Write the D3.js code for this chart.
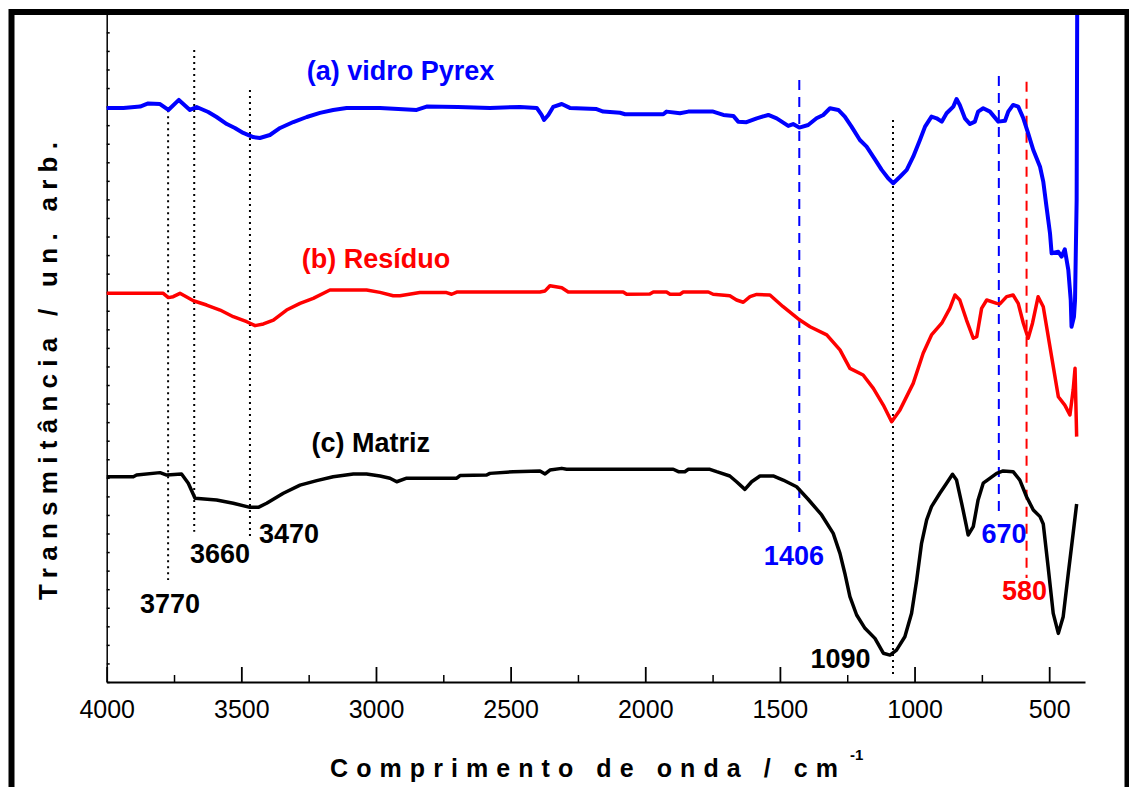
<!DOCTYPE html>
<html>
<head>
<meta charset="utf-8">
<script src="https://cdn.jsdelivr.net/npm/d3@7"></script>
<style>
  html, body { margin: 0; padding: 0; background: #fff; }
  svg { display: block; font-family: "Liberation Sans", Arial, sans-serif; }
</style>
</head>
<body>
<svg id="chart" width="1129" height="787"></svg>
<script>
// ---------- data (wavenumber cm^-1, transmittance arb. units) ----------
const pyrex = [
  [4000,30.93],[3938,30.93],[3876,31.00],[3846,31.17],[3802,31.14],[3771,30.82],[3732,31.36],[3691,30.82],
  [3666,30.98],[3623,30.71],[3592,30.44],[3554,30.06],[3524,29.85],[3493,29.58],[3456,29.36],[3431,29.31],
  [3394,29.47],[3356,29.85],[3307,30.17],[3257,30.44],[3208,30.66],[3159,30.82],[3109,30.93],[2985,30.93],
  [2849,30.82],[2812,31.00],[2696,30.98],[2577,30.93],[2465,30.98],[2403,30.93],[2385,30.55],[2376,30.28],
  [2360,30.55],[2342,30.98],[2310,31.14],[2280,30.93],[2181,30.87],[2156,30.73],[2094,30.67],[2075,30.59],
  [1933,30.59],[1921,30.73],[1871,30.64],[1840,30.73],[1748,30.73],[1710,30.55],[1673,30.50],[1655,30.19],
  [1624,30.16],[1586,30.37],[1543,30.55],[1512,30.37],[1469,29.96],[1451,30.06],[1428,29.87],[1395,30.01],
  [1364,30.37],[1339,30.55],[1314,30.91],[1283,30.82],[1259,30.46],[1234,29.92],[1203,29.20],[1178,28.84],
  [1147,28.16],[1122,27.59],[1098,27.14],[1079,26.87],[1054,27.22],[1029,27.59],[1005,28.30],[980,29.20],
  [961,29.92],[937,30.46],[918,30.37],[899,30.19],[881,30.64],[856,31.00],[844,31.41],[832,31.09],
  [813,30.37],[794,30.06],[776,30.19],[764,30.73],[745,30.91],[720,30.73],[689,30.19],[664,30.24],
  [652,30.73],[634,31.09],[615,31.00],[596,30.37],[578,29.56],[559,28.66],[534,27.76],[522,26.96],
  [510,25.61],[497,24.18],[491,23.10],[466,23.18],[454,22.92],[442,23.31],[429,22.20],[420,20.58],
  [417,19.14],[408,19.68],[404,20.58],[401,23.28],[398,25.97],[396,36.00]
];
const residuo = [
  [4000,20.94],[3913,20.94],[3790,20.94],[3771,20.71],[3753,20.76],[3728,20.94],[3678,20.54],[3629,20.31],
  [3579,20.04],[3530,19.68],[3480,19.41],[3449,19.20],[3418,19.29],[3381,19.50],[3332,20.04],[3282,20.40],
  [3233,20.67],[3171,21.12],[3035,21.12],[2985,20.99],[2936,20.81],[2911,20.81],[2837,20.98],[2738,20.98],
  [2719,20.89],[2700,21.01],[2391,21.01],[2372,21.07],[2354,21.35],[2310,21.24],[2286,21.01],[2082,21.01],
  [2069,20.89],[1983,20.90],[1970,21.01],[1921,21.01],[1908,20.89],[1871,20.89],[1859,21.01],[1766,21.01],
  [1748,20.89],[1686,20.81],[1661,20.58],[1636,20.46],[1611,20.76],[1586,20.88],[1537,20.85],[1488,20.22],
  [1426,19.50],[1388,19.14],[1326,18.70],[1277,17.89],[1240,16.90],[1191,16.54],[1153,15.82],[1116,14.92],
  [1085,14.02],[1054,14.66],[1005,16.09],[968,17.71],[937,18.70],[899,19.33],[869,20.13],[850,20.85],
  [832,20.58],[807,19.50],[782,18.52],[769,18.60],[751,20.13],[732,20.58],[695,20.40],[683,20.37],
  [658,20.76],[634,20.85],[615,20.40],[596,19.33],[578,18.52],[562,19.33],[541,20.76],[522,20.22],
  [491,17.53],[466,15.37],[442,14.92],[423,14.39],[411,15.73],[404,16.90],[398,13.22]
];
const matriz = [
  [4000,11.06],[3901,11.06],[3889,11.15],[3802,11.28],[3777,11.15],[3722,11.21],[3697,10.71],[3672,9.90],
  [3592,9.81],[3530,9.63],[3468,9.41],[3437,9.41],[3406,9.63],[3344,10.17],[3282,10.61],[3220,10.85],
  [3159,11.06],[3084,11.21],[3035,11.21],[2985,11.10],[2948,10.98],[2923,10.79],[2886,10.98],[2700,10.98],
  [2688,11.12],[2589,11.15],[2577,11.24],[2490,11.33],[2391,11.37],[2372,11.21],[2354,11.42],[2310,11.51],
  [2292,11.46],[1896,11.46],[1877,11.33],[1853,11.33],[1840,11.46],[1760,11.46],[1735,11.33],[1686,11.10],
  [1661,10.79],[1630,10.38],[1605,10.79],[1574,11.10],[1525,11.10],[1488,10.88],[1438,10.52],[1396,9.86],
  [1345,9.00],[1302,8.01],[1277,6.93],[1259,5.86],[1240,4.60],[1215,3.61],[1184,2.89],[1147,2.35],
  [1116,1.55],[1091,1.45],[1067,1.72],[1036,2.44],[1011,3.70],[992,5.50],[974,7.47],[955,8.73],
  [937,9.45],[906,10.17],[881,10.71],[859,11.19],[844,10.88],[825,9.63],[807,8.37],[801,7.92],
  [782,8.37],[764,9.81],[745,10.71],[695,11.24],[671,11.37],[634,11.33],[609,10.88],[584,9.98],
  [559,9.27],[534,8.91],[522,8.51],[504,6.21],[485,3.70],[466,2.62],[448,3.52],[429,5.86],
  [411,8.01],[398,9.59]
];

const seriesNames = ["(a) vidro Pyrex", "(b) Resíduo", "(c) Matriz"];
const seriesLabelWn = [3257, 3276, 3239];
const seriesLabelT = [32.44, 22.29, 12.41];

const xMajorTicks = [4000, 3500, 3000, 2500, 2000, 1500, 1000, 500];
const xMinorTicks = [3750, 3250, 2750, 2250, 1750, 1250, 750];
const yTicks = d3.range(0, 37, 1);

// band marker lines: wavenumber, top, bottom (arb. units), kind
const markerWn     = [3772, 3675, 3468, 1080, 1428, 687, 584];
const markerTop    = [30.80, 34.05, 31.90, 30.28, 32.44, 32.65, 32.34];
const markerBottom = [5.50, 8.10, 7.65, 0.32, 8.08, 9.16, 5.60];
const markerKind   = ["k", "k", "k", "k", "b", "b", "r"];

const bandLabels   = ["3770", "3660", "3470", "1406", "1090", "670", "580"];
const bandLabelWn  = [3765, 3579, 3323, 1448, 1275, 668, 592];
const bandLabelT   = [3.72, 6.41, 7.49, 6.30, 0.75, 7.49, 4.42];
const bandLabelKind = ["k", "k", "k", "b", "k", "b", "r"];

// ---------- drawing ----------
const colors = { k: "#000000", b: "#0000ff", r: "#ff0000" };
const svg = d3.select("#chart");

const x = d3.scaleLinear().domain([4000, 367]).range([106.7, 1085]);
const y = d3.scaleLinear().domain([0, 36]).range([682, 13.8]);

// y axis (no labels, tiny inward ticks)
svg.append("g")
  .attr("transform", "translate(106.7,0)")
  .call(d3.axisLeft(y).tickValues(yTicks).tickSize(-3).tickSizeOuter(0).tickFormat(""))
  .call(g => g.selectAll("path,line").attr("stroke", "#000").attr("stroke-width", 1.5));

// x axis minor ticks
svg.append("g")
  .attr("transform", "translate(0,682)")
  .call(d3.axisBottom(x).tickValues(xMinorTicks).tickSize(-7).tickSizeOuter(0).tickFormat(""))
  .call(g => g.select(".domain").remove())
  .call(g => g.selectAll("line").attr("stroke", "#000").attr("stroke-width", 1.5));

// x axis major ticks + labels
svg.append("g")
  .attr("transform", "translate(0,682)")
  .call(d3.axisBottom(x).tickValues(xMajorTicks).tickSize(-15).tickSizeOuter(0)
        .tickPadding(18).tickFormat(d3.format("d")))
  .call(g => g.selectAll("path,line").attr("stroke", "#000").attr("stroke-width", 1.8))
  .call(g => g.selectAll("text")
      .attr("fill", "#000")
      .style("font-family", "'Liberation Sans', Arial, sans-serif")
      .style("font-size", "25px"));

// marker lines
markerWn.forEach((wn, i) => {
  const kind = markerKind[i];
  svg.append("line")
    .attr("x1", x(wn)).attr("x2", x(wn))
    .attr("y1", y(markerTop[i])).attr("y2", y(markerBottom[i]))
    .attr("stroke", colors[kind])
    .attr("stroke-width", kind === "k" ? 2 : 2)
    .attr("stroke-dasharray", kind === "k" ? "2,4" : "10,7");
});

// curves
const line = d3.line().x(d => x(d[0])).y(d => y(d[1]));
svg.append("path").datum(matriz).attr("d", line)
  .attr("fill", "none").attr("stroke", colors.k).attr("stroke-width", 3.5).attr("stroke-linejoin", "round");
svg.append("path").datum(residuo).attr("d", line)
  .attr("fill", "none").attr("stroke", colors.r).attr("stroke-width", 3.5).attr("stroke-linejoin", "round");
svg.append("path").datum(pyrex).attr("d", line)
  .attr("fill", "none").attr("stroke", colors.b).attr("stroke-width", 4).attr("stroke-linejoin", "round");

// series labels
const seriesColors = [colors.b, colors.r, colors.k];
seriesNames.forEach((name, i) => {
  svg.append("text")
    .attr("x", x(seriesLabelWn[i])).attr("y", y(seriesLabelT[i]))
    .attr("fill", seriesColors[i])
    .style("font-size", "27px").style("font-weight", "bold")
    .text(name);
});

// band labels
bandLabels.forEach((lab, i) => {
  svg.append("text")
    .attr("x", x(bandLabelWn[i])).attr("y", y(bandLabelT[i]))
    .attr("text-anchor", "middle")
    .attr("fill", colors[bandLabelKind[i]])
    .style("font-size", "27px").style("font-weight", "bold")
    .text(lab);
});

// axis titles
svg.append("text")
  .attr("x", 330).attr("y", 777)
  .attr("textLength", 508).attr("lengthAdjust", "spacing")
  .style("font-size", "25px").style("font-weight", "bold")
  .text("Comprimento de onda / cm");
svg.append("text")
  .attr("x", 850).attr("y", 760)
  .style("font-size", "15px").style("font-weight", "bold")
  .text("-1");

svg.append("text")
  .attr("transform", "translate(57,371) rotate(-90)")
  .attr("text-anchor", "middle")
  .attr("textLength", 458).attr("lengthAdjust", "spacing")
  .style("font-size", "26px").style("font-weight", "bold")
  .text("Transmitância / un. arb.");

// outer frame
svg.append("rect")
  .attr("x", 11.5).attr("y", 12).attr("width", 1116).attr("height", 800)
  .attr("fill", "none").attr("stroke", "#000").attr("stroke-width", 6);
</script>
</body>
</html>
